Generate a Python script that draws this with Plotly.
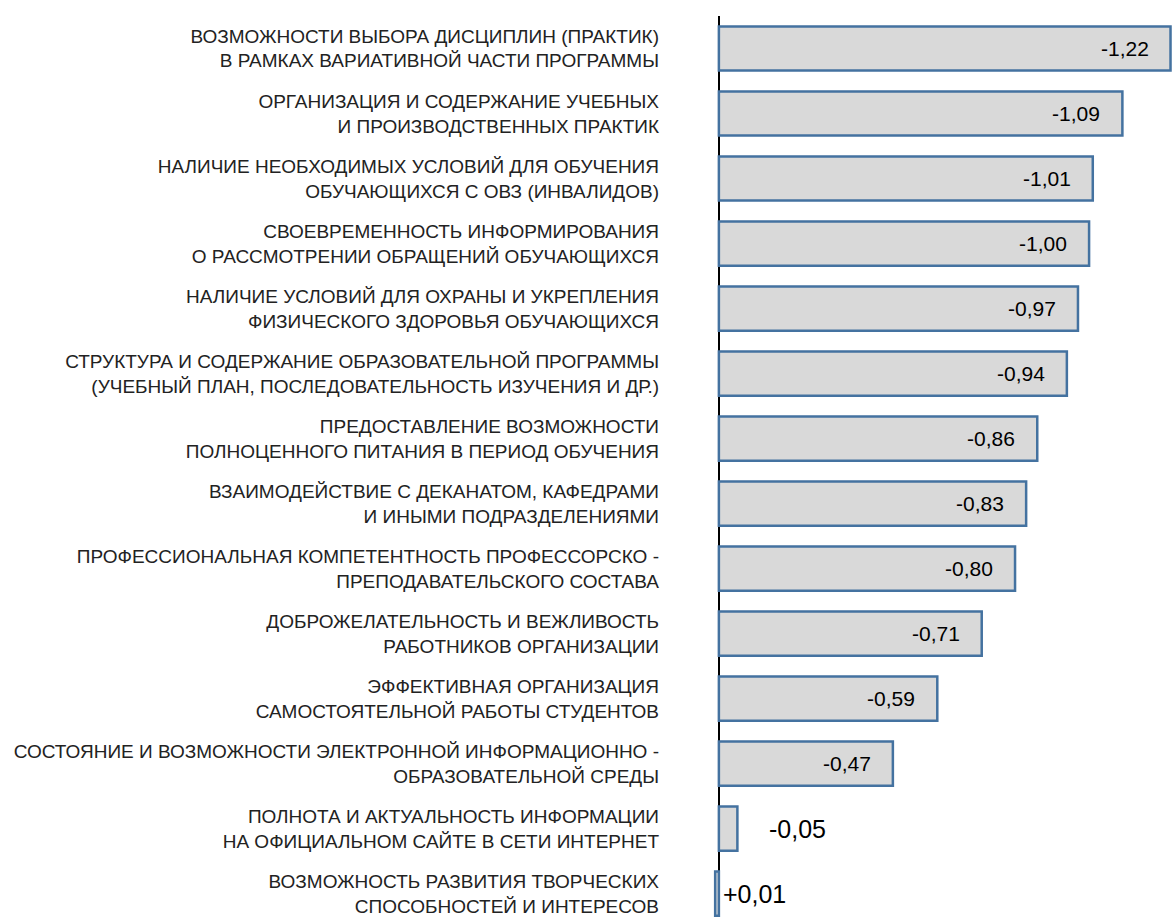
import plotly.graph_objects as go

categories = [
    "ВОЗМОЖНОСТИ ВЫБОРА ДИСЦИПЛИН (ПРАКТИК)<br>В РАМКАХ ВАРИАТИВНОЙ ЧАСТИ ПРОГРАММЫ",
    "ОРГАНИЗАЦИЯ И СОДЕРЖАНИЕ УЧЕБНЫХ<br>И ПРОИЗВОДСТВЕННЫХ ПРАКТИК",
    "НАЛИЧИЕ НЕОБХОДИМЫХ УСЛОВИЙ ДЛЯ ОБУЧЕНИЯ<br>ОБУЧАЮЩИХСЯ С ОВЗ (ИНВАЛИДОВ)",
    "СВОЕВРЕМЕННОСТЬ ИНФОРМИРОВАНИЯ<br>О РАССМОТРЕНИИ ОБРАЩЕНИЙ ОБУЧАЮЩИХСЯ",
    "НАЛИЧИЕ УСЛОВИЙ ДЛЯ ОХРАНЫ И УКРЕПЛЕНИЯ<br>ФИЗИЧЕСКОГО ЗДОРОВЬЯ ОБУЧАЮЩИХСЯ",
    "СТРУКТУРА И СОДЕРЖАНИЕ ОБРАЗОВАТЕЛЬНОЙ ПРОГРАММЫ<br>(УЧЕБНЫЙ ПЛАН, ПОСЛЕДОВАТЕЛЬНОСТЬ ИЗУЧЕНИЯ И ДР.)",
    "ПРЕДОСТАВЛЕНИЕ ВОЗМОЖНОСТИ<br>ПОЛНОЦЕННОГО ПИТАНИЯ В ПЕРИОД ОБУЧЕНИЯ",
    "ВЗАИМОДЕЙСТВИЕ С ДЕКАНАТОМ, КАФЕДРАМИ<br>И ИНЫМИ ПОДРАЗДЕЛЕНИЯМИ",
    "ПРОФЕССИОНАЛЬНАЯ КОМПЕТЕНТНОСТЬ ПРОФЕССОРСКО -<br>ПРЕПОДАВАТЕЛЬСКОГО СОСТАВА",
    "ДОБРОЖЕЛАТЕЛЬНОСТЬ И ВЕЖЛИВОСТЬ<br>РАБОТНИКОВ ОРГАНИЗАЦИИ",
    "ЭФФЕКТИВНАЯ ОРГАНИЗАЦИЯ<br>САМОСТОЯТЕЛЬНОЙ РАБОТЫ СТУДЕНТОВ",
    "СОСТОЯНИЕ И ВОЗМОЖНОСТИ ЭЛЕКТРОННОЙ ИНФОРМАЦИОННО -<br>ОБРАЗОВАТЕЛЬНОЙ СРЕДЫ",
    "ПОЛНОТА И АКТУАЛЬНОСТЬ ИНФОРМАЦИИ<br>НА ОФИЦИАЛЬНОМ САЙТЕ В СЕТИ ИНТЕРНЕТ",
    "ВОЗМОЖНОСТЬ РАЗВИТИЯ ТВОРЧЕСКИХ<br>СПОСОБНОСТЕЙ И ИНТЕРЕСОВ",
]

values = [-1.22, -1.09, -1.01, -1.00, -0.97, -0.94, -0.86, -0.83,
          -0.80, -0.71, -0.59, -0.47, -0.05, 0.01]


def fmt(v):
    s = f"{v:+.2f}" if v > 0 else f"{v:.2f}"
    return s.replace(".", ",")


fig = go.Figure()
fig.add_trace(go.Bar(
    y=categories,
    x=values,
    orientation="h",
    width=0.68,
    marker=dict(color="#d9d9d9", line=dict(color="#4472a0", width=2.5)),
    hoverinfo="skip",
))

annotations = []
for cat, v in zip(categories, values):
    if abs(v) >= 0.1:
        annotations.append(dict(
            x=v, y=cat, xref="x", yref="y", text=fmt(v), showarrow=False,
            xanchor="right", yanchor="middle", xshift=-20,
            font=dict(family="Liberation Sans, Arial", size=21, color="#000"),
        ))
    else:
        annotations.append(dict(
            x=min(v, 0), y=cat, xref="x", yref="y", text=fmt(v), showarrow=False,
            xanchor="left", yanchor="middle", xshift=30 if v < 0 else 2,
            font=dict(family="Liberation Sans, Arial", size=25, color="#000"),
        ))

fig.update_layout(
    width=1172, height=917,
    margin=dict(l=690, r=0, t=16, b=0, pad=0),
    paper_bgcolor="white", plot_bgcolor="white",
    showlegend=False,
    annotations=annotations,
    xaxis=dict(
        range=[0.078, -1.224], showgrid=False, showticklabels=False, ticks="",
        zeroline=True, zerolinecolor="#000", zerolinewidth=2, showline=False,
    ),
    yaxis=dict(
        type="category", range=[13.36, -0.5], showgrid=False, zeroline=False,
        ticks="", showline=False, ticklabelstandoff=30,
        tickfont=dict(family="Liberation Sans, Arial", size=19, color="#222"),
    ),
)

fig.write_html(
    "out.html",
    config={"displayModeBar": False},
    post_script="document.body.style.margin='0';document.body.style.overflow='hidden';",
)
